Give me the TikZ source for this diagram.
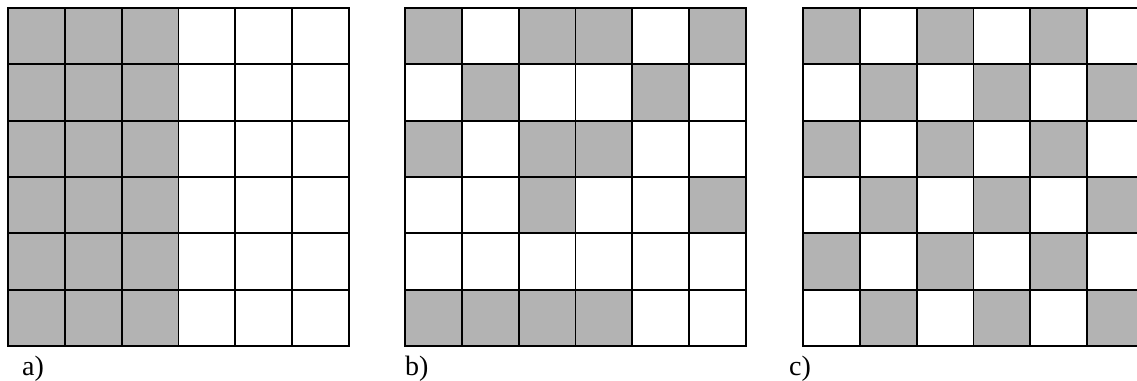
\documentclass[tikz,border=0pt]{standalone}
\usepackage{fontspec}
\setmainfont{Liberation Serif}
\definecolor{cellgray}{RGB}{179,179,179}
\tikzset{
  gridline/.style={line width=1.7pt, line cap=rect},
  graycell/.style={fill=cellgray},
  boardlabel/.style={anchor=base west, inner sep=0pt, font=\fontsize{28}{28}\selectfont}
}
\newcommand{\cw}{56.83}
\newcommand{\chh}{56.33}
\newcommand{\gridlines}[1]{%
  \foreach \i in {0,...,6} {
    \draw[gridline] (#1+\i*\cw, 8) -- (#1+\i*\cw, 346);
    \draw[gridline] (#1, 8+\i*\chh) -- (#1+6*\cw, 8+\i*\chh);
  }}
\begin{document}
\begin{tikzpicture}[x=1pt,y=-1pt]
\useasboundingbox (0,0) rectangle (1137,380);
\fill[white] (0,0) rectangle (1137,380);
\clip (0,0) rectangle (1137,380);
% board a
\foreach \c in {0,1,2} \foreach \r in {0,...,5}
  \fill[graycell] (8+\c*\cw, 8+\r*\chh) rectangle ++(\cw,\chh);
% board b
\foreach \c/\r in {0/0,2/0,3/0,5/0,1/1,4/1,0/2,2/2,3/2,2/3,5/3,0/5,1/5,2/5,3/5}
  \fill[graycell] (405+\c*\cw, 8+\r*\chh) rectangle ++(\cw,\chh);
% board c
\foreach \c/\r in {0/0,2/0,4/0,1/1,3/1,5/1,0/2,2/2,4/2,1/3,3/3,5/3,0/4,2/4,4/4,1/5,3/5,5/5}
  \fill[graycell] (803+\c*\cw, 8+\r*\chh) rectangle ++(\cw,\chh);
\gridlines{8}
\gridlines{405}
\gridlines{803}
\node[boardlabel] (la) at (22,375) {a)};
\node[boardlabel] (lb) at (405,375) {b)};
\node[boardlabel] (lc) at (789,375) {c)};
\end{tikzpicture}
\end{document}
